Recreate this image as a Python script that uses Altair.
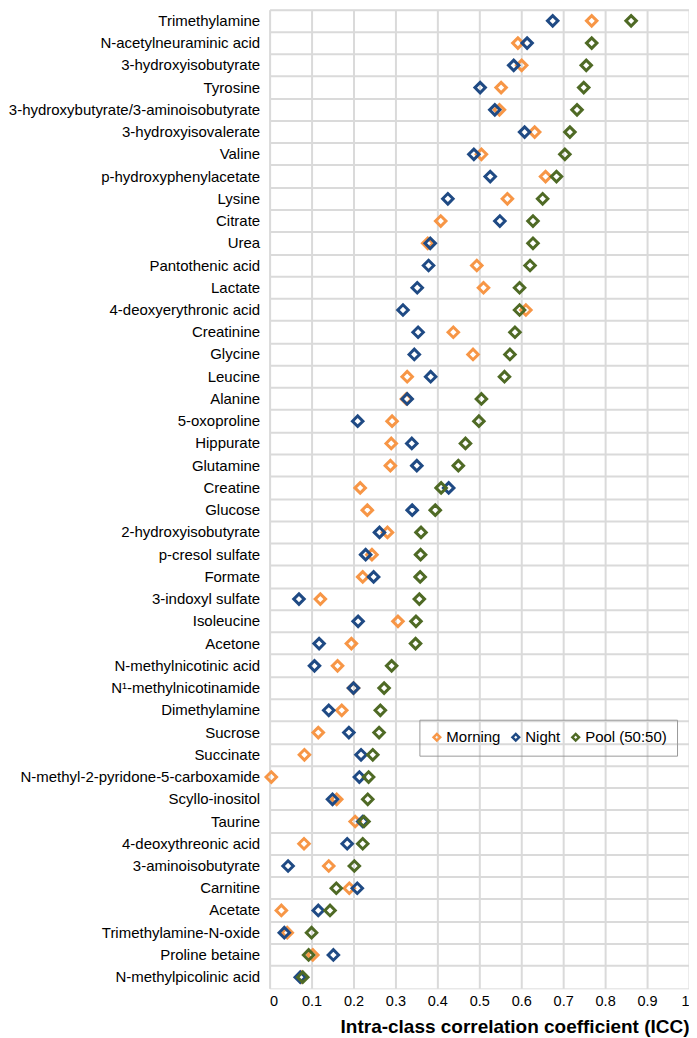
import altair as alt
import pandas as pd

names = [
    "Trimethylamine", "N-acetylneuraminic acid", "3-hydroxyisobutyrate", "Tyrosine",
    "3-hydroxybutyrate/3-aminoisobutyrate", "3-hydroxyisovalerate", "Valine",
    "p-hydroxyphenylacetate", "Lysine", "Citrate", "Urea", "Pantothenic acid", "Lactate",
    "4-deoxyerythronic acid", "Creatinine", "Glycine", "Leucine", "Alanine", "5-oxoproline",
    "Hippurate", "Glutamine", "Creatine", "Glucose", "2-hydroxyisobutyrate",
    "p-cresol sulfate", "Formate", "3-indoxyl sulfate", "Isoleucine", "Acetone",
    "N-methylnicotinic acid", "N\u00b9-methylnicotinamide", "Dimethylamine", "Sucrose",
    "Succinate", "N-methyl-2-pyridone-5-carboxamide", "Scyllo-inositol", "Taurine",
    "4-deoxythreonic acid", "3-aminoisobutyrate", "Carnitine", "Acetate",
    "Trimethylamine-N-oxide", "Proline betaine", "N-methylpicolinic acid",
]
morning = [0.768, 0.592, 0.601, 0.552, 0.548, 0.632, 0.505, 0.658, 0.567, 0.408, 0.377,
           0.494, 0.510, 0.611, 0.438, 0.485, 0.328, 0.326, 0.292, 0.290, 0.288, 0.216,
           0.233, 0.281, 0.244, 0.222, 0.121, 0.306, 0.195, 0.162, 0.200, 0.172, 0.116,
           0.083, 0.004, 0.160, 0.204, 0.082, 0.141, 0.190, 0.028, 0.042, 0.103, 0.075]
night = [0.675, 0.614, 0.582, 0.502, 0.537, 0.608, 0.487, 0.526, 0.425, 0.549, 0.383,
         0.379, 0.352, 0.318, 0.354, 0.345, 0.384, 0.328, 0.210, 0.339, 0.351, 0.427,
         0.340, 0.262, 0.229, 0.248, 0.070, 0.211, 0.118, 0.107, 0.200, 0.141, 0.189,
         0.218, 0.214, 0.150, 0.222, 0.185, 0.044, 0.209, 0.116, 0.035, 0.152, 0.073]
pool = [0.862, 0.768, 0.755, 0.749, 0.733, 0.716, 0.704, 0.684, 0.651, 0.628, 0.628,
        0.621, 0.596, 0.596, 0.585, 0.573, 0.560, 0.505, 0.499, 0.467, 0.450, 0.409,
        0.395, 0.361, 0.360, 0.359, 0.357, 0.349, 0.348, 0.291, 0.273, 0.264, 0.261,
        0.246, 0.236, 0.234, 0.225, 0.222, 0.202, 0.159, 0.144, 0.100, 0.093, 0.079]
series = ["Morning", "Night", "Pool (50:50)"]
colors = ["#F79646", "#1F4A84", "#4F6A25"]
tick_values = [0, 0.1, 0.2, 0.3, 0.4, 0.5, 0.6, 0.7, 0.8, 0.9, 1]

rows = []
for s, vals in zip(series, [morning, night, pool]):
    for n, v in zip(names, vals):
        rows.append({"metabolite": n, "series": s, "icc": v})
df = pd.DataFrame(rows)

FONT = "Liberation Sans"
GRID = "#DADADA"

x_enc = alt.X(
    "icc:Q",
    scale=alt.Scale(domain=[0, 1], nice=False),
    axis=alt.Axis(
        values=tick_values, format="~g", grid=True, gridColor=GRID, gridWidth=2,
        gridOpacity=1, domain=False, ticks=False, labelFontSize=14.5, labelColor="black",
        labelPadding=6, labelFont=FONT, title="Intra-class correlation coefficient (ICC)",
        titleFontSize=19, titleFontWeight="bold", titleColor="black", titleFont=FONT,
        titleAnchor="end", titlePadding=10,
    ),
)
y_scale = alt.Scale(type="band", paddingInner=0, paddingOuter=0)

grid_layer = alt.Chart(df).mark_point(opacity=0).encode(
    x=x_enc,
    y=alt.Y(
        "metabolite:N", sort=names, scale=y_scale,
        axis=alt.Axis(orient="right", grid=True, bandPosition=0, labels=False, ticks=False,
                      domain=False, gridColor=GRID, gridWidth=2, gridOpacity=1, title=None),
    ),
)

points = alt.Chart(df).mark_point(
    shape="diamond", filled=False, strokeWidth=3, size=110, opacity=1
).encode(
    x=x_enc,
    y=alt.Y(
        "metabolite:N", sort=names, scale=y_scale,
        axis=alt.Axis(title=None, grid=False, ticks=False, domain=False, labelFontSize=15,
                      labelColor="black", labelFont=FONT, labelPadding=10, labelLimit=400),
    ),
    color=alt.Color(
        "series:N", scale=alt.Scale(domain=series, range=colors),
        legend=alt.Legend(
            orient="none", legendX=150, legendY=711, direction="horizontal", title=None,
            labelFontSize=15, labelColor="black", labelFont=FONT, symbolType="diamond",
            symbolSize=45, symbolStrokeWidth=2.5, strokeColor="#9a9a9a", padding=10,
            columnPadding=6, labelOffset=2,
        ),
    ),
)

chart = (
    alt.layer(grid_layer, points)
    .resolve_axis(y="independent")
    .properties(width=420, height=980, padding=0)
    .configure_view(stroke="#444444", strokeWidth=1.5)
    .configure_legend(strokeWidth=2)
    .configure(font=FONT)
)

chart.save("out.html", embed_options={"renderer": "svg", "actions": False})
